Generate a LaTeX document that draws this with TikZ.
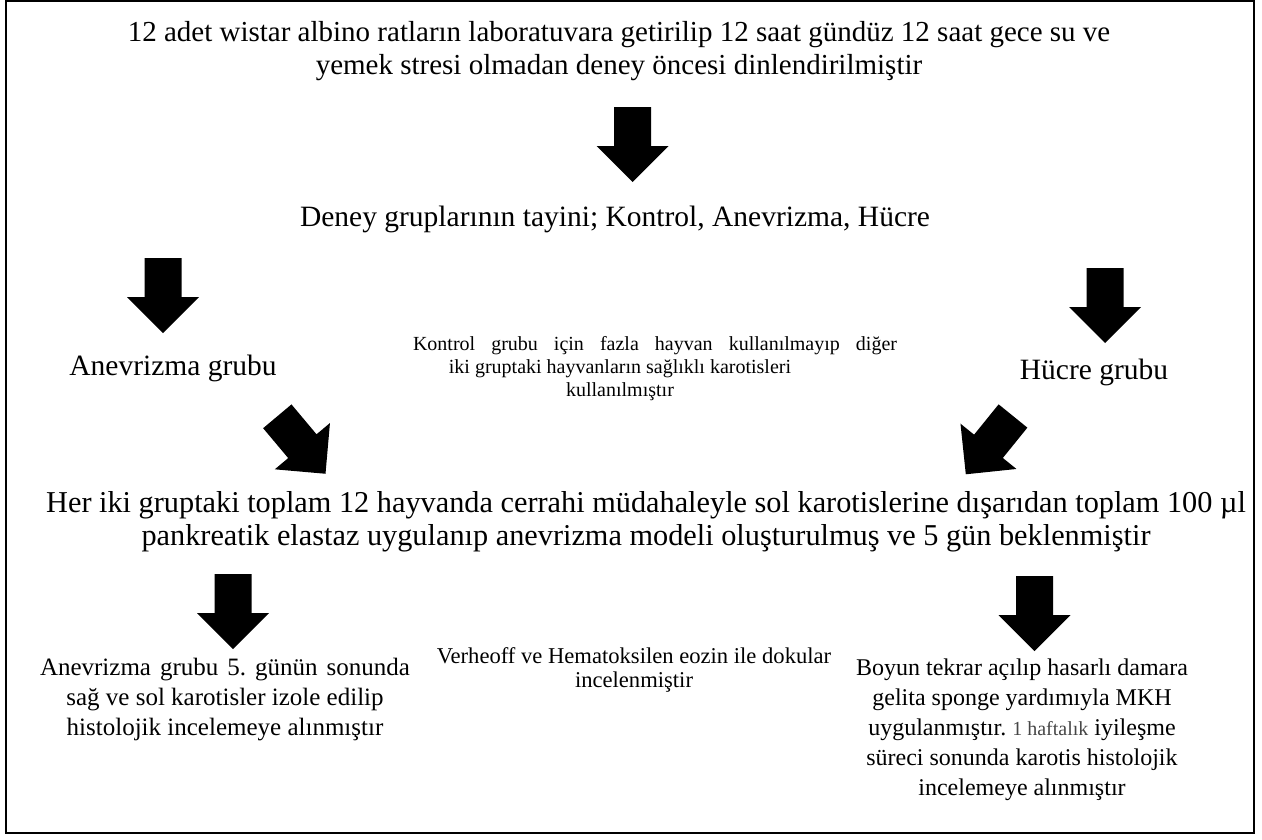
\documentclass[tikz,border=0pt]{standalone}
\usepackage{fontspec}
\setmainfont{Liberation Serif}
\usetikzlibrary{positioning}
\definecolor{softgray}{RGB}{70,70,70}
\frenchspacing

\begin{document}
\begin{tikzpicture}[bigtext/.style={font=\fontsize{29.5}{32.5}\selectfont, align=center, inner sep=0pt, anchor=base}, midtext/.style={font=\fontsize{24}{30}\selectfont, align=center, inner sep=0pt, anchor=base}, smalltext/.style={font=\fontsize{20}{23}\selectfont, align=center, inner sep=0pt, anchor=base}, downarrow/.pic={\fill (-18.5pt,0pt) -- (18.5pt,0pt) -- (18.5pt,-39pt) -- (36pt,-39pt) -- (0pt,-75pt) -- (-36pt,-39pt) -- (-18.5pt,-39pt) -- cycle;}]
	\useasboundingbox (0pt,0pt) rectangle (1262pt,-839pt);
	\draw[line width=1.6pt] (6pt,-1pt) rectangle (1254pt,-833pt);
	% anchor=base sits on the last line
	\draw (619pt,-74pt)node[bigtext, font=\fontsize{29}{32.5}\selectfont](title){12 adet wistar albino ratların laboratuvara getirilip 12 saat gündüz 12 saat gece su ve\\yemek stresi olmadan deney öncesi dinlendirilmiştir};
	\draw (615pt,-226pt)node[bigtext](groups){Deney gruplarının tayini; Kontrol, Anevrizma, Hücre};
	\draw (173pt,-375pt)node[bigtext](anev){Anevrizma grubu};
	\draw (1094pt,-379pt)node[bigtext](hucre){Hücre grubu};
	\draw (620pt,-396pt)node[smalltext](kontrol){\hspace*{70pt}\makebox[484pt][s]{Kontrol grubu için fazla hayvan kullanılmayıp diğer}\\iki gruptaki hayvanların sağlıklı karotisleri\\kullanılmıştır};
	\draw (646pt,-545pt)node[bigtext, font=\fontsize{30.3}{32.5}\selectfont](model){Her iki gruptaki toplam 12 hayvanda cerrahi müdahaleyle sol karotislerine dışarıdan toplam 100 µl\\pankreatik elastaz uygulanıp anevrizma modeli oluşturulmuş ve 5 gün beklenmiştir};
	\draw (225pt,-735pt)node[midtext, font=\fontsize{25}{30}\selectfont](anevend){\makebox[370pt][s]{Anevrizma grubu 5. günün sonunda}\\sağ ve sol karotisler izole edilip\\histolojik incelemeye alınmıştır};
	\draw (634pt,-687pt)node[smalltext, font=\fontsize{22.6}{24}\selectfont](stain){Verheoff ve Hematoksilen eozin ile dokular\\incelenmiştir};
	\draw (1022pt,-795pt)node[midtext](hucreend){Boyun tekrar açılıp hasarlı damara\\gelita sponge yardımıyla MKH\\uygulanmıştır. {\fontsize{20}{30}\selectfont\color{softgray}1 haftalık} iyileşme\\süreci sonunda karotis histolojik\\incelemeye alınmıştır};
	\pic at (632.5pt,-107pt) {downarrow};
	\pic at (163pt,-258pt) {downarrow};
	\pic at (1105pt,-268pt) {downarrow};
	\pic[rotate=40] at (277.3pt,-416.3pt) {downarrow};
	\pic[rotate=-39] at (1013pt,-416pt) {downarrow};
	\pic at (233pt,-574pt) {downarrow};
	\pic at (1034.5pt,-576pt) {downarrow};
	\end{tikzpicture}
\end{document}
